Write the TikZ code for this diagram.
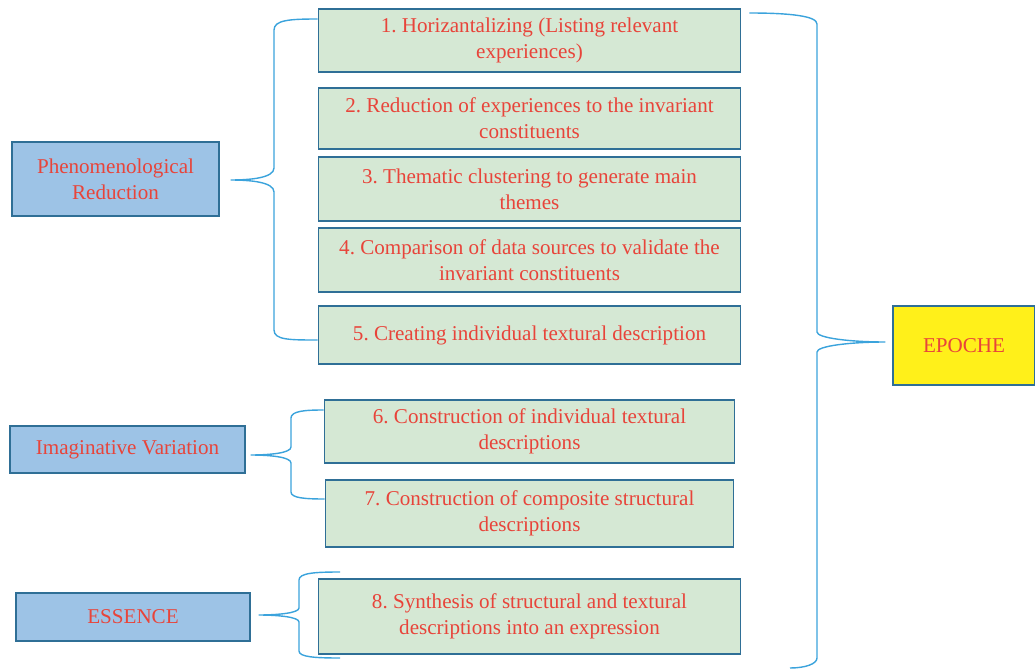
\documentclass[tikz,border=0pt]{standalone}
\usepackage{fontspec}
\setmainfont{Liberation Serif}
\usetikzlibrary{calc}
\frenchspacing
\definecolor{stepgreen}{HTML}{D5E8D4}
\definecolor{phasblue}{HTML}{9DC3E6}
\definecolor{epyellow}{HTML}{FFF01A}
\definecolor{framecol}{HTML}{2F6F96}
\definecolor{bracecol}{HTML}{3BA3DC}
\definecolor{textred}{HTML}{E8443A}

\begin{document}
\begin{tikzpicture}[x=0.02cm,y=-0.02cm]
\tikzstyle{stepbox}=[rectangle,draw=framecol,fill=stepgreen,semithick,align=center,text=textred,font=\fontsize{12}{14.8}\selectfont,inner sep=2pt]
\tikzstyle{phase}=[rectangle,draw=framecol,fill=phasblue,semithick,align=center,text=textred,font=\fontsize{12}{14.8}\selectfont]
\tikzstyle{brace}=[draw=bracecol,thick]
\useasboundingbox (0,0) rectangle (1035,669);
% steps
\node [stepbox,minimum width=8.46cm,minimum height=1.26cm] (s1) at (529.5,40.5) {1. Horizantalizing (Listing relevant\\experiences)};
\node [stepbox,minimum width=8.46cm,minimum height=1.22cm] (s2) at (529.5,118.5) {2. Reduction of experiences to the invariant\\constituents};
\node [stepbox,minimum width=8.46cm,minimum height=1.28cm] (s3) at (529.5,189) {3. Thematic clustering to generate main\\themes};
\node [stepbox,minimum width=8.46cm,minimum height=1.28cm] (s4) at (529.5,260) {4. Comparison of data sources to validate the\\invariant constituents};
\node [stepbox,minimum width=8.46cm,minimum height=1.16cm] (s5) at (529.5,335) {5. Creating individual textural description};
\node [stepbox,minimum width=8.22cm,minimum height=1.26cm] (s6) at (529.5,431.5) {6. Construction of individual textural\\descriptions};
\node [stepbox,minimum width=8.18cm,minimum height=1.34cm] (s7) at (529.5,513.5) {7. Construction of composite structural\\descriptions};
\node [stepbox,minimum width=8.46cm,minimum height=1.5cm] (s8) at (529.5,616.5) {8. Synthesis of structural and textural\\descriptions into an expression};
% phases
\node [phase,minimum width=4.14cm,minimum height=1.48cm] (phen) at (115.5,179) {Phenomenological\\Reduction};
\node [phase,minimum width=4.7cm,minimum height=0.94cm] (imag) at (127.5,449.5) {Imaginative Variation};
\node [phase,minimum width=4.68cm,minimum height=0.96cm] (ess) at (133,617) {ESSENCE};
\node [phase,fill=epyellow,minimum width=2.84cm,minimum height=1.58cm] (epo) at (964,345.5) {EPOCHE};
% braces
\draw [brace] (s1.west |- 0,19) .. controls (290,19) and (274,20) .. (274,30) -- (274,168)
  .. controls (274,178) and (250,180) .. ($(phen.east)+(11,1)$)
  .. controls (250,180) and (274,182) .. (274,192) -- (274,330)
  .. controls (274,340) and (290,340) .. (s5.west |- 0,340);
\draw [brace] (s6.west |- 0,410) .. controls (305,410) and (291,411) .. (291,418) -- (291,447)
  .. controls (291,453) and (270,455) .. ($(imag.east)+(5,5.5)$)
  .. controls (270,455) and (291,457) .. (291,463) -- (291,492)
  .. controls (291,498) and (305,499) .. (s7.west |- 0,499);
\draw [brace] (340,572) .. controls (315,572) and (299,573) .. (299,580) -- (299,608)
  .. controls (299,613) and (278,615) .. ($(ess.east)+(8,-2)$)
  .. controls (278,615) and (299,617) .. (299,622) -- (299,651)
  .. controls (299,657) and (315,658) .. (340,658);
\draw [brace] ($(s1.east)+(8,-27.5)$) .. controls (790,13) and (817,16) .. (817,24) -- (817,332)
  .. controls (817,338) and (850,342) .. ($(epo.west)+(-7,-3.5)$)
  .. controls (850,342) and (817,346) .. (817,352) -- (817,658)
  .. controls (817,664) and (805,668) .. (790,668);
\end{tikzpicture}
\end{document}
